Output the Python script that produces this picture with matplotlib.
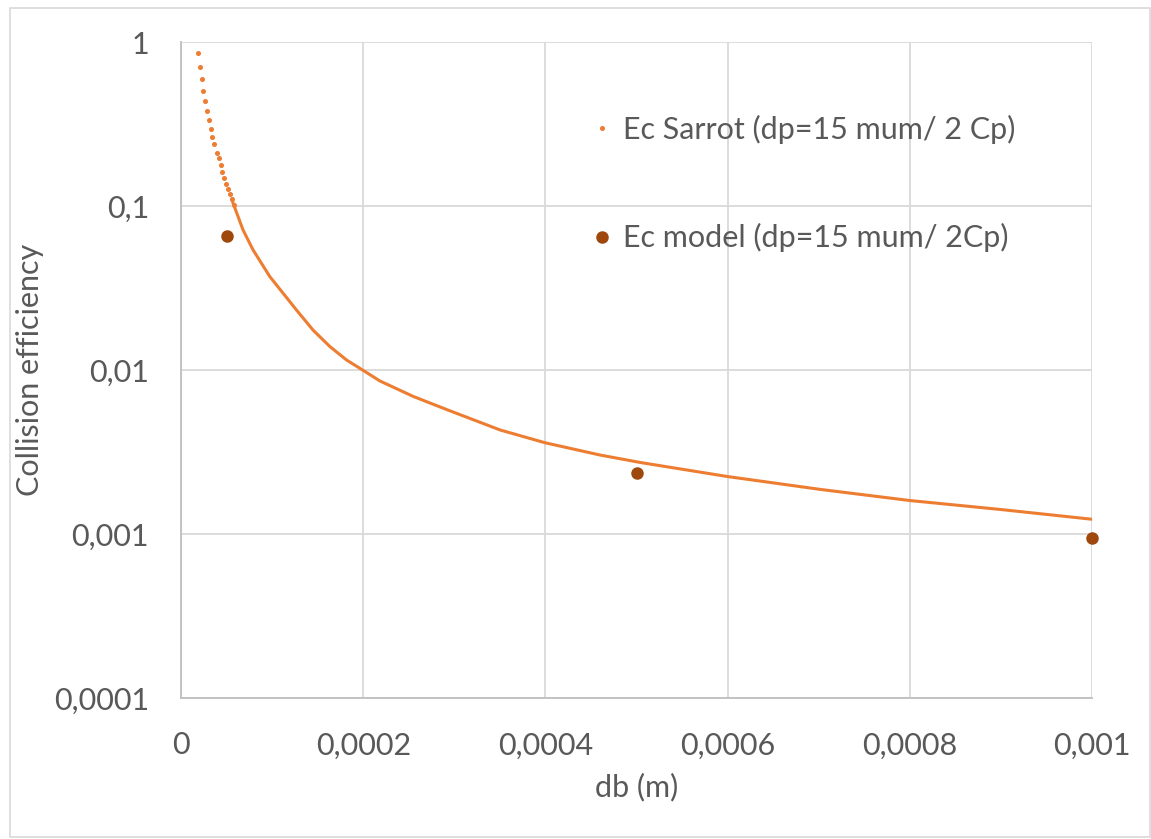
"""
Collision efficiency vs bubble diameter (log scale), Sarrot curve and model points
"""
import matplotlib
matplotlib.use("Agg")
import matplotlib.pyplot as plt
from matplotlib.lines import Line2D
from matplotlib.patches import Rectangle

# Ec Sarrot curve
sarrot_db = [0.0000187, 0.0000205, 0.0000227, 0.0000246, 0.0000268, 0.000029,
             0.0000308, 0.0000326, 0.0000345, 0.0000367, 0.0000396, 0.0000418,
             0.0000436, 0.0000455, 0.0000477, 0.0000499, 0.0000516, 0.0000535,
             0.0000557, 0.0000579, 0.0000681, 0.0000791, 0.0000975, 0.0001268,
             0.000145, 0.0001634, 0.0001818, 0.0001993, 0.0002184, 0.0002549,
             0.0002916, 0.0003502, 0.0003997, 0.0004601, 0.0005041, 0.0006,
             0.0007019, 0.0008, 0.0009, 0.001]
sarrot_ec = [0.853, 0.707, 0.592, 0.503, 0.437, 0.381,
             0.334, 0.295, 0.265, 0.239, 0.211, 0.195,
             0.178, 0.162, 0.149, 0.137, 0.127, 0.118,
             0.110, 0.1015, 0.0714, 0.054, 0.0371, 0.0232,
             0.0175, 0.0139, 0.0115, 0.0100, 0.00857, 0.0069,
             0.00574, 0.00431, 0.0036, 0.00303, 0.00273, 0.00224,
             0.00187, 0.0016, 0.00141, 0.00123]

# Ec model points
model_db = [0.00005, 0.0005, 0.001]
model_ec = [0.0656, 0.00234, 0.00095]

xticks = [0, 0.0002, 0.0004, 0.0006, 0.0008, 0.001]
xlabels = ["0", "0,0002", "0,0004", "0,0006", "0,0008", "0,001"]
yticks = [0.0001, 0.001, 0.01, 0.1, 1]
ylabels = ["0,0001", "0,001", "0,01", "0,1", "1"]

naranja = "#ED7D31"
marron = "#9E480E"
gris_txt = "#595959"
gris_grid = "#D9D9D9"
fs = 22

plt.rcParams["font.family"] = ["Lato", "DejaVu Sans"]

fig = plt.figure(figsize=(11.51, 8.39), dpi=100)
ax = fig.add_axes([181 / 1151, 1 - 698 / 839, 911 / 1151, 656 / 839])

# the steep part of the curve shows separate dots, the rest a solid line
corte = 0.000058
puntos_x = [x for x in sarrot_db if x <= corte]
puntos_y = [y for x, y in zip(sarrot_db, sarrot_ec) if x <= corte]
ax.plot(puntos_x, puntos_y, linestyle="none", marker="o", ms=2.6,
        color=naranja, zorder=3)
linea_x = [x for x in sarrot_db if x >= 0.000055]
linea_y = [y for x, y in zip(sarrot_db, sarrot_ec) if x >= 0.000055]
ax.plot(linea_x, linea_y, color=naranja, lw=2.2, zorder=3)
ax.plot(model_db, model_ec, linestyle="none", marker="o", ms=8,
        color=marron, zorder=4, clip_on=False)

ax.set_yscale("log")
ax.set_xlim(0, 0.001)
ax.set_ylim(0.0001, 1)
ax.set_xticks(xticks)
ax.set_xticklabels(xlabels)
ax.set_yticks(yticks)
ax.set_yticklabels(ylabels)
ax.minorticks_off()
ax.tick_params(axis="both", length=0, labelsize=fs, labelcolor=gris_txt)
ax.tick_params(axis="y", pad=23)
ax.tick_params(axis="x", pad=24)
ax.grid(True, color=gris_grid, lw=1.3)
ax.set_axisbelow(True)
for s in ["top", "right"]:
    ax.spines[s].set_visible(False)
for s in ["left", "bottom"]:
    ax.spines[s].set_color("#BFBFBF")
    ax.spines[s].set_linewidth(1.3)

ax.set_xlabel("db (m)", fontsize=fs, color=gris_txt, labelpad=10)
ax.set_ylabel("Collision efficiency", fontsize=fs, color=gris_txt, labelpad=7)

# leyenda
h1 = Line2D([], [], linestyle="none", marker="o", ms=2.6, color=naranja)
h2 = Line2D([], [], linestyle="none", marker="o", ms=8, color=marron)
ax.legend([h1, h2], ["Ec Sarrot (dp=15 mum/ 2 Cp)", "Ec model (dp=15 mum/ 2Cp)"],
          loc="upper left", bbox_to_anchor=(0.418, 0.931), frameon=False,
          fontsize=fs, labelcolor=gris_txt, labelspacing=2.6,
          handlelength=0.8, handletextpad=0.3)

# borde del grafico
fig.patches.append(Rectangle((10 / 1151, 0.002), 1 - 11 / 1151, 1 - 10 / 839,
                             transform=fig.transFigure, fill=False,
                             edgecolor=gris_grid, lw=1.2))

fig.savefig("out.png", dpi=100)
